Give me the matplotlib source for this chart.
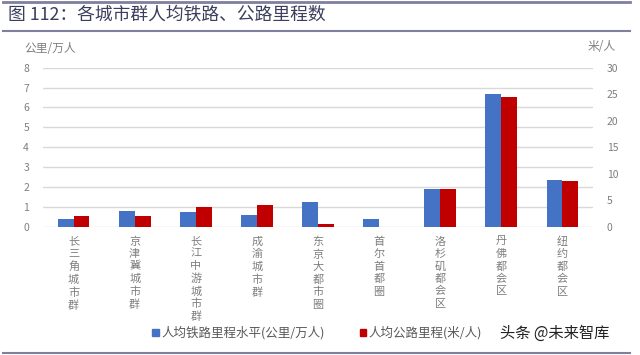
import matplotlib
matplotlib.use("Agg")
import matplotlib.pyplot as plt
import numpy as np

plt.rcParams['font.family'] = ['Noto Sans CJK SC', 'DejaVu Sans']

categories = ["长三角城市群", "京津冀城市群", "长江中游城市群", "成渝城市群", "东京大都市圈",
              "首尔首都圈", "洛杉矶都会区", "丹佛都会区", "纽约都会区"]
rail = [0.38, 0.78, 0.73, 0.6, 1.26, 0.38, 1.9, 6.7, 2.37]      # 公里/万人
road = [2.0, 2.0, 3.75, 4.05, 0.45, 0.0, 7.1, 24.5, 8.6]        # 米/人
left_ticks = [0, 1, 2, 3, 4, 5, 6, 7, 8]
right_ticks = [0, 5, 10, 15, 20, 25, 30]
title = "图 112：各城市群人均铁路、公路里程数"
rail_label = "人均铁路里程水平(公里/万人)"
road_label = "人均公路里程(米/人)"

blue = "#4472C4"
red = "#C00000"

fig = plt.figure(figsize=(6.4, 3.55), dpi=100)
ax = fig.add_axes([43/640, 1-226.7/355, 550/640, 159/355])
ax2 = ax.twinx()

x = np.arange(len(categories))
w = 0.26
ax.bar(x - w/2, rail, w, color=blue, zorder=3)
ax2.bar(x + w/2, road, w, color=red, zorder=3)

ax.set_xlim(-0.5, len(categories) - 0.5)
ax.set_ylim(0, 8)
ax2.set_ylim(0, 30)
ax.set_yticks(left_ticks)
ax2.set_yticks(right_ticks)
ax.yaxis.grid(True, color="#d9d9d9", linewidth=1.0, zorder=0)
ax.set_axisbelow(True)
for a in (ax, ax2):
    for s in a.spines.values():
        s.set_visible(False)
    a.tick_params(length=0, labelsize=7.5, labelcolor="#7f7f7f")
ax.tick_params(axis='y', pad=10)
ax2.tick_params(axis='y', pad=10)
ax.set_xticks(x)
ax.set_xticklabels(["\n".join(c) for c in categories], fontsize=8, color="#7f7f7f",
                   va='top', linespacing=1.28)
ax.tick_params(axis='x', pad=7)

# unit labels
fig.text(50/640, 1-48/355, "公里/万人", fontsize=8.5, color="#7f7f7f", ha='center', va='center')
fig.text(602/640, 1-47/355, "米/人", fontsize=8.5, color="#7f7f7f", ha='center', va='center')

# title and frame lines
fig.text(8/640, 1-15/355, title, fontsize=12.8, color="#3a3f5c", ha='left', va='center')
for yy, lw in [(1.5, 2.0), (31, 1.5), (352.5, 1.5)]:
    fig.add_artist(plt.Line2D([3/640, 630/640], [1-yy/355, 1-yy/355], color="#7f7f9f",
                              linewidth=lw, transform=fig.transFigure))

# legend
from matplotlib.patches import Patch
handles = [Patch(color=blue, label=rail_label), Patch(color=red, label=road_label)]
leg = fig.legend(handles=handles, loc='center', bbox_to_anchor=(317/640, 1-333/355),
                 ncol=2, frameon=False, fontsize=9, handlelength=0.5, handleheight=0.5,
                 handletextpad=0.2, columnspacing=2.8, labelcolor="#595959")

fig.text(555/640, 1-333/355, "头条 @未来智库", fontsize=11, color="#222222", ha='center', va='center')

fig.savefig("out.png", dpi=100)
